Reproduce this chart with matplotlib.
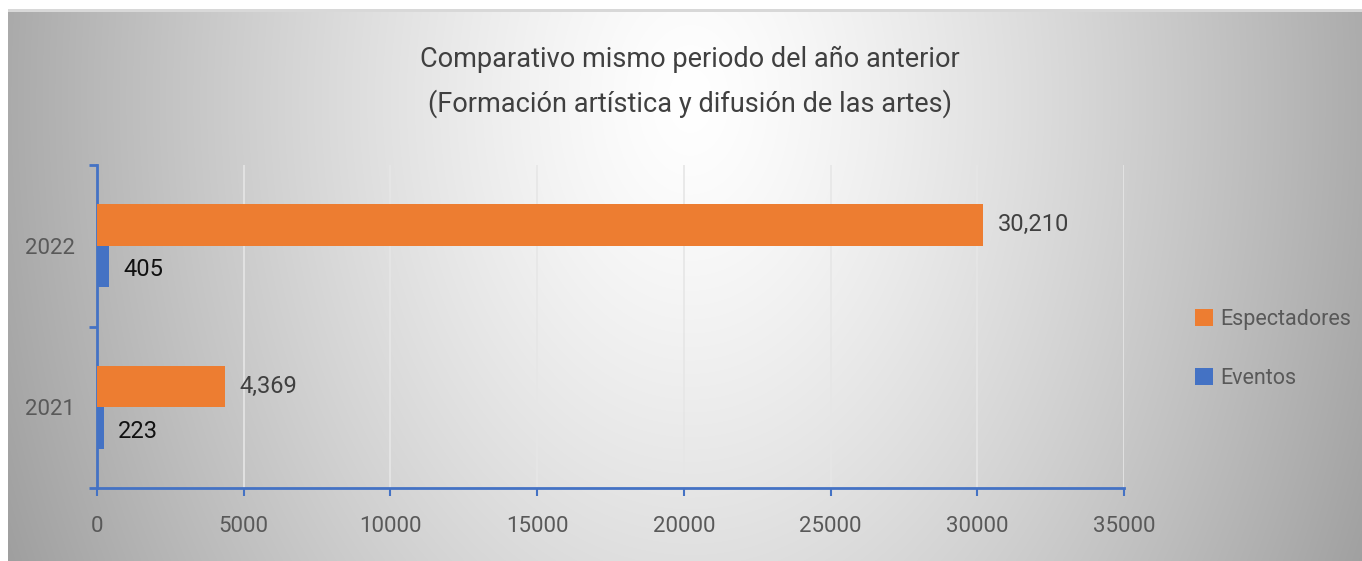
import numpy as np
import matplotlib
matplotlib.use("Agg")
import matplotlib.pyplot as plt
from matplotlib import font_manager as fm

years = ["2021", "2022"]
espectadores = [4369, 30210]
eventos = [223, 405]
esp_labels = ["4,369", "30,210"]
ev_labels = ["223", "405"]
xticks = [0, 5000, 10000, 15000, 20000, 25000, 30000, 35000]
title = "Comparativo mismo periodo del año anterior\n(Formación artística y difusión de las artes)"

avail = {f.name for f in fm.fontManager.ttflist}
fam = [f for f in ["Liberation Sans Narrow", "Roboto", "DejaVu Sans"] if f in avail]
plt.rcParams["font.family"] = fam

W, H = 1362, 561
fig = plt.figure(figsize=(W / 100, H / 100), dpi=100)

# background gradient
bg = fig.add_axes([0, 0, 1, 1])
yy, xx = np.mgrid[0:H, 0:W]
r = np.sqrt(((xx - 690) / 680.0) ** 2 + ((yy - 100) / 980.0) ** 2)
v = 1 - 0.33 * np.clip(r, 0, 1.2) ** 1.3
img = np.dstack([v, v, v])
img[:10, :, :] = 1.0
img[:, :8, :] = 1.0
img[9:12, 8:, :] = 0.85
bg.imshow(img, extent=[0, W, H, 0], aspect="auto", interpolation="bilinear")
bg.set_xlim(0, W)
bg.set_ylim(H, 0)
bg.axis("off")

# plot area: x 97..1124, y 165..488
ax = fig.add_axes([97 / W, 1 - 488 / H, (1124 - 97) / W, (488 - 165) / H])
ax.patch.set_alpha(0)
y = np.arange(len(years))
h = 0.258
blue = "#4472C4"
orange = "#ED7D31"
ax.barh(y + h / 2, espectadores, height=h, color=orange, label="Espectadores", zorder=3)
ax.barh(y - h / 2, eventos, height=h, color=blue, label="Eventos", zorder=3)
ax.set_xlim(0, 35000)
ax.set_ylim(-0.5, 1.5)
ax.set_xticks(xticks)
ax.set_xticklabels([str(t) for t in xticks])
ax.set_yticks(y)
ax.set_yticklabels(years)
ax.set_yticks([-0.5, 0.5, 1.5], minor=True)
ax.tick_params(axis="y", which="major", length=0, labelsize=16, labelcolor="#595959", pad=16)
ax.tick_params(axis="y", which="minor", length=6, width=2, color=blue, direction="out")
ax.tick_params(axis="x", length=6, width=1.5, color=blue, labelsize=16, labelcolor="#595959", pad=14)
for s in ["top", "right"]:
    ax.spines[s].set_visible(False)
for s in ["left", "bottom"]:
    ax.spines[s].set_color(blue)
    ax.spines[s].set_linewidth(2)
ax.grid(axis="x", color="#e6e6e6", linewidth=1.2, zorder=0)
ax.set_axisbelow(True)

for i in range(len(years)):
    ax.text(espectadores[i] + 500, y[i] + h / 2, esp_labels[i], va="center", ha="left",
            fontsize=17, color="#404040")
    ax.text(eventos[i] + 500, y[i] - h / 2 - 0.02, ev_labels[i], va="center", ha="left",
            fontsize=17, color="#111111")

fig.text(690 / W, 1 - 82 / H, title, ha="center", va="center", fontsize=19.5,
         color="#404040", linespacing=1.75)

leg = fig.legend(loc="center left", bbox_to_anchor=(1176 / W, 1 - 349 / H), frameon=False,
                 fontsize=15.5, labelcolor="#595959", handlelength=0.8, handleheight=0.8,
                 handletextpad=0.35, labelspacing=1.75)

fig.savefig("out.png", dpi=100)
